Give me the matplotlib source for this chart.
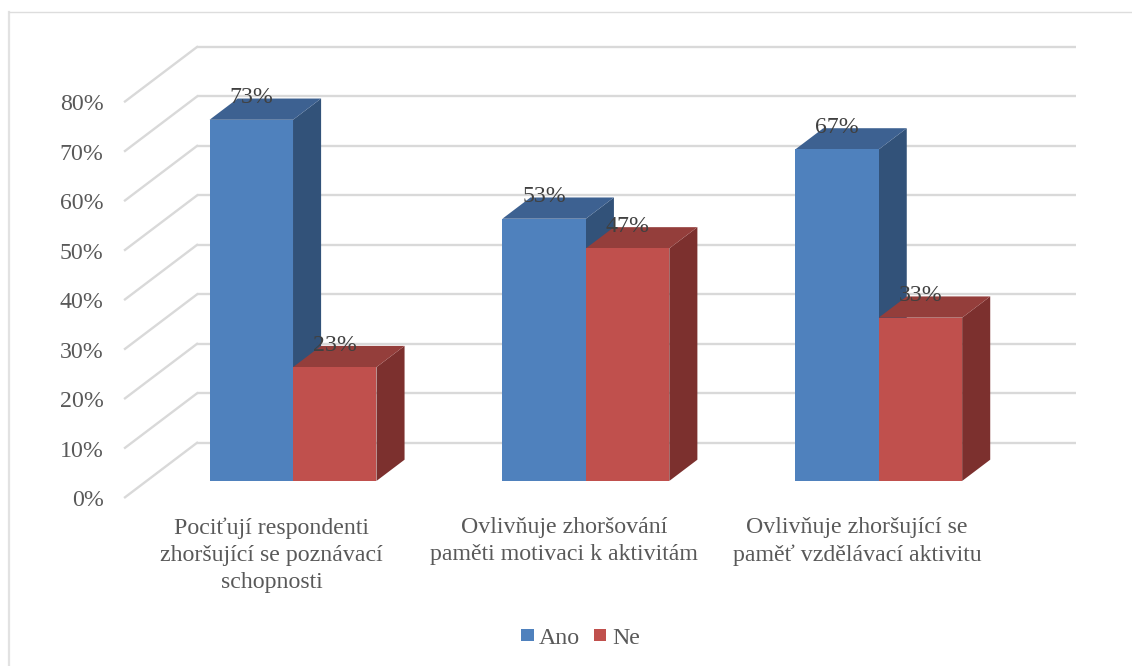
import matplotlib
matplotlib.use("Agg")
import matplotlib.pyplot as plt
from matplotlib.patches import Polygon, Rectangle
from matplotlib.lines import Line2D
from matplotlib.transforms import Affine2D

categories = ["Pociťují respondenti\nzhoršující se poznávací\nschopnosti",
              "Ovlivňuje zhoršování\npaměti motivaci k aktivitám",
              "Ovlivňuje zhoršující se\npaměť vzdělávací aktivitu"]
series_names = ["Ano", "Ne"]
ano_values = [73, 53, 67]
ne_values = [23, 47, 33]
y_ticks = [0, 10, 20, 30, 40, 50, 60, 70, 80]

W, H = 1132, 666
BLUE = ("#4F81BD", "#3D6191", "#325279")      # front, top, side
RED = ("#C0504D", "#943E3B", "#7C302E")
GRID = "#D9D9D9"
TEXT = "#595959"
LABEL = "#404040"
FONT_SIZE = 17.2

plt.rcParams["font.family"] = ["Liberation Serif", "DejaVu Serif"]

fig = plt.figure(figsize=(W / 100, H / 100), dpi=100, facecolor="white")

# Front plane of the 3D box: x runs over the categories, y over the percentages.
left, right, bottom, top = 125, 1003.5, 497.3, 101.5
ax = fig.add_axes([left / W, 1 - bottom / H, (right - left) / W, (bottom - top) / H])
ax.set_xlim(0, 3)
ax.set_ylim(0, 80)
ax.axis("off")

# Shift in pixels from the front plane to the back wall of the box.
DEPTH_X, DEPTH_Y = 72, 54.5
BAR_START, BAR_DEPTH = 0.30, 0.39
BAR_WIDTH = 0.285


def plane(depth):
    """Data transform for a plane at the given fraction of the box depth."""
    return ax.transData + Affine2D().translate(DEPTH_X * depth, DEPTH_Y * depth)


# Chart frame
fig.add_artist(Line2D([9 / W, 9 / W], [0, 1 - 11.5 / H], color="#E2E2E2", lw=1.6))
fig.add_artist(Line2D([9 / W, 1], [1 - 11.5 / H, 1 - 11.5 / H], color="#DDDDDD", lw=1.0))

# Gridlines: a diagonal on the side wall, then along the back wall.
back = plane(1)
front = plane(0)
for v in y_ticks:
    ax.plot([0, 3], [v, v], color=GRID, lw=1.7, transform=back, clip_on=False,
            solid_capstyle="butt", zorder=1)
    x0, y0 = front.transform((0, v))
    x1, y1 = back.transform((0, v))
    ax.add_line(Line2D([x0, x1], [y0, y1], color=GRID, lw=1.7, transform=None,
                       clip_on=False, zorder=1))
    ax.text(-0.073, v - 0.7, f"{v}%", ha="right", va="center", fontsize=FONT_SIZE,
            color=TEXT, clip_on=False)


def draw_bar(x0, value, colors, z):
    near = plane(BAR_START)
    far = plane(BAR_START + BAR_DEPTH)
    x1 = x0 + BAR_WIDTH
    px = lambda tr, x, y: tuple(tr.transform((x, y)))
    side = [px(near, x1, 0), px(far, x1, 0), px(far, x1, value), px(near, x1, value)]
    cap = [px(near, x0, value), px(near, x1, value), px(far, x1, value), px(far, x0, value)]
    ax.add_patch(Polygon(side, closed=True, fc=colors[2], ec="none", transform=None,
                         clip_on=False, zorder=z))
    ax.add_patch(Polygon(cap, closed=True, fc=colors[1], ec="none", transform=None,
                         clip_on=False, zorder=z))
    ax.add_patch(Rectangle((x0, 0), BAR_WIDTH, value, fc=colors[0], ec="none",
                           transform=near, clip_on=False, zorder=z + 0.5))
    ax.text(x0 + BAR_WIDTH / 2, value + 2.3, f"{value}%", transform=near,
            ha="center", va="bottom", fontsize=FONT_SIZE, color=LABEL, clip_on=False,
            zorder=10)


for i, (a, n) in enumerate(zip(ano_values, ne_values)):
    centre = i + 0.5
    draw_bar(centre - BAR_WIDTH, a, BLUE, 3 + i * 2)
    draw_bar(centre, n, RED, 4 + i * 2)
    ax.text(centre, -4.0, categories[i], ha="center", va="top", fontsize=FONT_SIZE,
            color=TEXT, linespacing=1.39, clip_on=False)

# Legend
for name, colour, sx, sw, tx in zip(series_names, (BLUE[0], RED[0]), (521, 594), (13, 12), (539, 612)):
    fig.add_artist(Rectangle((sx / W, 1 - 641 / H), sw / W, 12 / H, fc=colour, ec="none",
                             transform=fig.transFigure))
    fig.text(tx / W, 1 - 638 / H, name, ha="left", va="center", fontsize=FONT_SIZE, color=TEXT)

fig.savefig("out.png", dpi=100)
